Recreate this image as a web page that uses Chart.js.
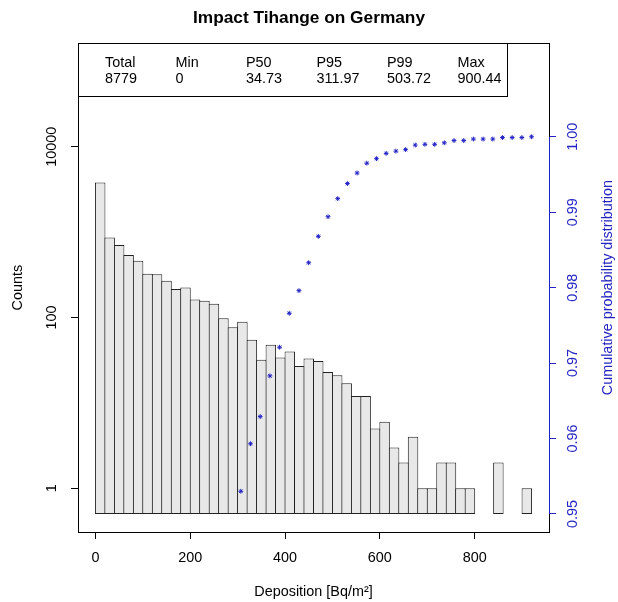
<!DOCTYPE html>
<html>
<head>
<meta charset="utf-8">
<script src="https://cdn.jsdelivr.net/npm/chart.js@4.4.0/dist/chart.umd.min.js"></script>
<style>
  html, body { margin: 0; padding: 0; background: #fff; }
  #wrap { width: 618px; height: 602px; }
</style>
</head>
<body>
<div id="wrap"><canvas id="chart"></canvas></div>
<script>
// histogram bins (20 Bq/m2 wide), given by their mid points
const binMids = [10, 30, 50, 70, 90, 110, 130, 150, 170, 190,
                 210, 230, 250, 270, 290, 310, 330, 350, 370, 390,
                 410, 430, 450, 470, 490, 510, 530, 550, 570, 590,
                 610, 630, 650, 670, 690, 710, 730, 750, 770, 790,
                 810, 830, 850, 870, 890, 910];
const counts = [3800, 862, 706, 540, 463, 326, 320, 270, 215, 224,
                162, 157, 145, 98, 77, 89, 55, 32, 48, 34,
                40, 27, 33, 31, 23, 21, 17, 12, 12, 5,
                6, 3, 2, 4, 1, 1, 2, 2, 1, 1,
                0, 0, 2, 0, 0, 1];

// cumulative probability (only the part above 0.95 is visible)
const cdfMids = [310, 330, 350, 370, 390, 410, 430, 450, 470, 490,
                 510, 530, 550, 570, 590, 610, 630, 650, 670, 690,
                 710, 730, 750, 770, 790, 810, 830, 850, 870, 890, 910];
const cdfValues = [0.9530, 0.9593, 0.9629, 0.9683, 0.9721, 0.9766, 0.9796, 0.9833, 0.9868, 0.9894,
                   0.9918, 0.9938, 0.9952, 0.9965, 0.9971, 0.9978, 0.9981, 0.9983, 0.9989, 0.9990,
                   0.9990, 0.9992, 0.9995, 0.9995, 0.9997, 0.9997, 0.9997, 0.9999, 0.9999, 0.9999, 1.0000];

const xTicks = [0, 200, 400, 600, 800];
const countTicks = [1, 100, 10000];
const cdfTicks = [0.95, 0.96, 0.97, 0.98, 0.99, 1.00];

const statNames = ['Total', 'Min', 'P50', 'P95', 'P99', 'Max'];
const statValues = ['8779', '0', '34.73', '311.97', '503.72', '900.44'];

const FONT = "'Liberation Sans', Arial, Helvetica, sans-serif";
const BLUE = '#2424c4';
const txt = {family: FONT, size: 14.4};

Chart.defaults.font.family = FONT;

const framePlugin = {
    id: 'frame',
    afterDraw(chart) {
        const ctx = chart.ctx;
        const a = chart.chartArea;
        const y2 = chart.scales.y2;

        ctx.save();
        // plot box
        ctx.strokeStyle = '#000';
        ctx.lineWidth = 1;
        ctx.strokeRect(Math.round(a.left) + 0.5, Math.round(a.top) + 0.5,
            Math.round(a.right - a.left), Math.round(a.bottom - a.top));

        // right axis line between its extreme ticks
        ctx.strokeStyle = BLUE;
        ctx.beginPath();
        ctx.moveTo(Math.round(a.right) + 0.5, y2.getPixelForValue(cdfTicks[0]));
        ctx.lineTo(Math.round(a.right) + 0.5, y2.getPixelForValue(cdfTicks[cdfTicks.length - 1]));
        ctx.stroke();

        // right axis title
        ctx.fillStyle = BLUE;
        ctx.font = '14.4px ' + FONT;
        ctx.textAlign = 'center';
        ctx.textBaseline = 'middle';
        ctx.translate(608, (a.top + a.bottom) / 2);
        ctx.rotate(-Math.PI / 2);
        ctx.fillText('Cumulative probability distribution', 0, 0);
        ctx.restore();

        // statistics box
        ctx.save();
        const bx = Math.round(a.left) + 0.5, by = Math.round(a.top) + 0.5;
        ctx.fillStyle = '#fff';
        ctx.fillRect(bx, by, 429, 53);
        ctx.strokeStyle = '#000';
        ctx.strokeRect(bx, by, 429, 53);
        ctx.fillStyle = '#000';
        ctx.font = '14.4px ' + FONT;
        ctx.textAlign = 'left';
        ctx.textBaseline = 'middle';
        statNames.forEach((name, i) => {
            const x = a.left + 27 + i * 70.5;
            ctx.fillText(name, x, a.top + 19.5);
            ctx.fillText(statValues[i], x, a.top + 35.5);
        });
        ctx.restore();
    }
};

const tickGrid = (color) => ({
    display: true,
    drawOnChartArea: false,
    drawTicks: true,
    tickLength: 7,
    tickWidth: 1,
    tickColor: color,
    offset: false
});

new Chart(document.getElementById('chart'), {
    type: 'bar',
    data: {
        datasets: [{
            type: 'bar',
            data: binMids.map((m, i) => ({x: m, y: counts[i] > 0 ? counts[i] : null})),
            xAxisID: 'x',
            yAxisID: 'y',
            base: 0.5,
            grouped: false,
            backgroundColor: '#e8e8e8',
            borderColor: '#222',
            borderWidth: 1,
            borderSkipped: false,
            inflateAmount: 0,
            barPercentage: 1.106,
            categoryPercentage: 1,
            order: 2
        }, {
            type: 'scatter',
            data: cdfMids.map((m, i) => ({x: m, y: cdfValues[i]})),
            xAxisID: 'x2',
            yAxisID: 'y2',
            pointStyle: 'star',
            pointRadius: 2.4,
            borderColor: BLUE,
            backgroundColor: BLUE,
            borderWidth: 1,
            order: 1
        }]
    },
    options: {
        responsive: true,
        maintainAspectRatio: false,
        animation: false,
        events: [],
        layout: {padding: 0},
        plugins: {
            legend: {display: false},
            tooltip: {enabled: false},
            title: {
                display: true,
                text: 'Impact Tihange on Germany',
                color: '#000',
                font: {family: FONT, size: 17.3, weight: 'bold'},
                padding: {top: 8, bottom: 14.5}
            }
        },
        scales: {
            x: {
                type: 'linear',
                position: 'bottom',
                min: -36.8,
                max: 956.8,
                bounds: 'data',
                offset: false,
                grid: tickGrid('#000'),
                border: {display: false},
                afterBuildTicks: s => { s.ticks = xTicks.map(v => ({value: v})); },
                ticks: {color: '#000', font: txt, padding: 10, maxRotation: 0, autoSkip: false,
                        callback: v => String(v)},
                title: {display: true, text: 'Deposition [Bq/m²]', color: '#000', font: txt,
                        padding: {top: 0, bottom: 1.4}},
                afterFit: s => { s.height = 70; }
            },
            x2: {
                type: 'linear',
                display: false,
                position: 'bottom',
                min: -26,
                max: 946,
                bounds: 'data',
                offset: false
            },
            y: {
                type: 'logarithmic',
                position: 'left',
                min: 0.307,
                max: 162900,
                bounds: 'data',
                grid: tickGrid('#000'),
                border: {display: false},
                afterBuildTicks: s => { s.ticks = countTicks.map(v => ({value: v})); },
                ticks: {color: '#000', font: txt, padding: -1, minRotation: 90, maxRotation: 90,
                        crossAlign: 'center', autoSkip: false, callback: v => String(v)},
                title: {display: true, text: 'Counts', color: '#000', font: txt,
                        padding: {top: 9.4, bottom: 0}},
                afterFit: s => { s.width = 78; }
            },
            y2: {
                type: 'linear',
                position: 'right',
                min: 0.9476,
                max: 1.0124,
                bounds: 'data',
                grid: tickGrid(BLUE),
                border: {display: false},
                afterBuildTicks: s => { s.ticks = cdfTicks.map(v => ({value: v})); },
                ticks: {color: BLUE, font: txt, padding: 3, minRotation: 90, maxRotation: 90,
                        crossAlign: 'center', autoSkip: false, callback: v => v.toFixed(2)},
                afterFit: s => { s.width = 69; }
            }
        }
    },
    plugins: [framePlugin]
});
</script>
</body>
</html>
